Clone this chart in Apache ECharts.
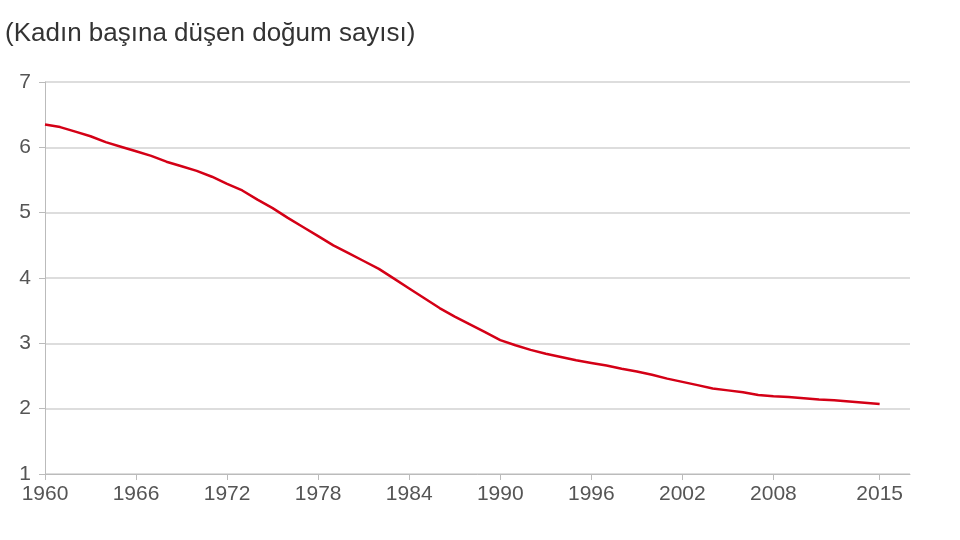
<!DOCTYPE html>
<html>
<head>
<meta charset="utf-8">
<script src="https://cdn.jsdelivr.net/npm/echarts@6/dist/echarts.min.js"></script>
<style>html,body{margin:0;padding:0;background:#fff}#chart{width:960px;height:540px}</style>
</head>
<body>
<div id="chart"></div>
<script>
// doğurganlık oranı, yıllara göre
const years = [];
for (let y = 1960; y <= 2015; y++) years.push(y);
const values = [
    6.35, 6.31, 6.24, 6.17, 6.08, 6.01, 5.94, 5.87, 5.78, 5.71,
    5.64, 5.55, 5.44, 5.34, 5.20, 5.07, 4.92, 4.78, 4.64, 4.50,
    4.38, 4.26, 4.14, 3.99, 3.84, 3.69, 3.54, 3.41, 3.29, 3.17,
    3.05, 2.97, 2.90, 2.84, 2.79, 2.74, 2.70, 2.66, 2.61, 2.57,
    2.52, 2.46, 2.41, 2.36, 2.31, 2.28, 2.25, 2.21, 2.19, 2.18,
    2.16, 2.14, 2.13, 2.11, 2.09, 2.07
];
const xLabels = [1960, 1966, 1972, 1978, 1984, 1990, 1996, 2002, 2008, 2015];

const chart = echarts.init(document.getElementById('chart'));
chart.setOption({
    animation: false,
    title: {
        text: '(Kadın başına düşen doğum sayısı)',
        left: 0, top: 16,
        textStyle: { color: '#333', fontSize: 26, fontWeight: 'normal', fontFamily: 'Liberation Sans, Arial' }
    },
    grid: { left: 45, right: 50, top: 82, bottom: 66 },
    xAxis: {
        type: 'value', min: 1960, max: 2017,
        axisLine: { lineStyle: { color: '#bbb' } },
        axisTick: { show: true, customValues: xLabels, length: 6, lineStyle: { color: '#bbb' } },
        axisLabel: { customValues: xLabels, formatter: v => String(v), color: '#555', fontSize: 21, margin: 10, fontFamily: 'Liberation Sans, Arial' },
        splitLine: { show: false }
    },
    yAxis: {
        type: 'value', min: 1, max: 7, interval: 1,
        axisLine: { show: true, lineStyle: { color: '#bbb' } },
        axisTick: { show: true, length: 6, lineStyle: { color: '#bbb' } },
        axisLabel: { color: '#555', fontSize: 21, margin: 14, fontFamily: 'Liberation Sans, Arial' },
        splitLine: { lineStyle: { color: '#ddd', width: 2 } }
    },
    series: [{
        type: 'line',
        data: years.map((y, i) => [y, values[i]]),
        showSymbol: false,
        lineStyle: { color: '#d40016', width: 2.5 }
    }]
});
</script>
</body>
</html>
